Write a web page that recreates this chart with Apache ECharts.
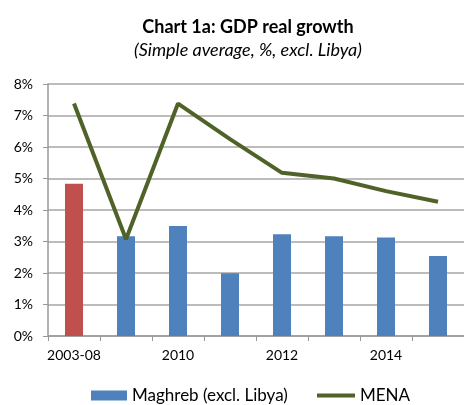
<!DOCTYPE html>
<html>
<head>
<meta charset="utf-8">
<script src="https://cdn.jsdelivr.net/npm/echarts@6/dist/echarts.min.js"></script>
<style>
  html, body { margin: 0; padding: 0; background: #fff; }
  #chart { width: 464px; height: 405px; }
</style>
</head>
<body>
<div id="chart"></div>
<script>
// years, first one is the 2003-08 average
const categories = ['2003-08', '2009', '2010', '2011', '2012', '2013', '2014', '2015'];
const maghreb = [4.83, 3.17, 3.49, 1.99, 3.23, 3.17, 3.13, 2.54];
const mena = [7.38, 3.07, 7.38, 6.25, 5.18, 5.0, 4.6, 4.26];
const yTicks = [0, 1, 2, 3, 4, 5, 6, 7, 8];

const font = 'Lato, "Open Sans", sans-serif';
const myChart = echarts.init(document.getElementById('chart'));

let option = {
  backgroundColor: '#fff',
  animation: false,
  textStyle: { fontFamily: font },
  title: {
    text: 'Chart 1a: GDP real growth',
    subtext: '(Simple average, %, excl. Libya)',
    left: 243,
    textAlign: 'center',
    top: 13,
    itemGap: 5,
    textStyle: { fontFamily: font, fontSize: 18, fontWeight: 'bold', color: '#000' },
    subtextStyle: { fontFamily: font, fontSize: 18, fontStyle: 'italic', color: '#000' }
  },
  // two legends so the line icon can be thinner than the bar icon
  legend: [
    {
      left: 89,
      top: 385,
      padding: 2,
      itemWidth: 36,
      itemHeight: 10,
      textStyle: { fontFamily: font, fontSize: 17, color: '#000' },
      data: [{ name: 'Maghreb (excl. Libya)', icon: 'rect' }]
    },
    {
      left: 315,
      top: 385,
      padding: 2,
      itemWidth: 38,
      itemHeight: 4,
      textStyle: { fontFamily: font, fontSize: 17, color: '#000' },
      data: [{ name: 'MENA', icon: 'rect' }]
    }
  ],
  grid: {
    left: 48,
    right: 0,
    top: 84,
    bottom: 69
  },
  xAxis: {
    type: 'category',
    data: categories,
    axisLine: { lineStyle: { color: '#999', width: 1.5 } },
    axisTick: { show: true, interval: 0, length: 5, lineStyle: { color: '#999' } },
    axisLabel: { interval: 1, color: '#000', fontSize: 14, margin: 12 }
  },
  yAxis: {
    type: 'value',
    min: yTicks[0],
    max: yTicks[yTicks.length - 1],
    interval: 1,
    axisLine: { show: true, lineStyle: { color: '#999', width: 1.5 } },
    axisTick: { show: true, length: 5, lineStyle: { color: '#999' } },
    axisLabel: { formatter: '{value}%', color: '#000', fontSize: 14, margin: 15 },
    splitLine: { lineStyle: { color: '#a6a6a6', width: 1.5 } }
  },
  series: [
    {
      name: 'Maghreb (excl. Libya)',
      type: 'bar',
      barWidth: 18,
      itemStyle: { color: '#4F81BD' },
      data: maghreb.map((v, i) => i === 0 ? { value: v, itemStyle: { color: '#C0504D' } } : v)
    },
    {
      name: 'MENA',
      type: 'line',
      symbol: 'none',
      lineStyle: { color: '#4F6228', width: 4 },
      itemStyle: { color: '#4F6228' },
      data: mena
    }
  ]
};
myChart.setOption(option);
</script>
</body>
</html>
